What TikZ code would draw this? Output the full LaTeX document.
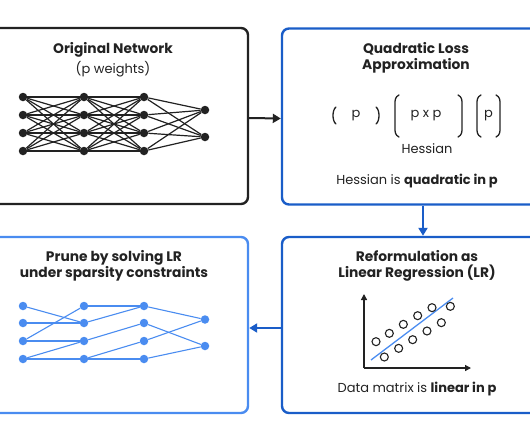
\documentclass[tikz,border=0pt]{standalone}
\usepackage{fontspec}
\setmainfont{Poppins}
\usetikzlibrary{arrows.meta,calc}
\definecolor{dk}{HTML}{222222}
\definecolor{bluedk}{HTML}{1A5DC8}
\definecolor{bluelt}{HTML}{4A8CF0}
\tikzset{
  box/.style={draw, line width=2.4pt, rounded corners=7pt, minimum width=282pt, minimum height=176pt, inner sep=0},
  ttl/.style={font=\fontsize{13.8}{16}\selectfont\bfseries, align=center, text=dk, inner sep=0},
  txt/.style={font=\fontsize{13}{15}\selectfont, align=center, text=dk, inner sep=0},
  nn/.style={circle, fill=dk, minimum size=8.5pt, inner sep=0},
  sn/.style={circle, fill=bluelt, minimum size=8.5pt, inner sep=0},
  wire/.style={line width=1.2pt, dk},
  swire/.style={line width=1.1pt, bluelt},
  arr/.style={line width=2pt, -{Triangle[length=8pt,width=9pt]}},
  brk/.style={line width=1.3pt, dk, line cap=round},
  dot/.style={circle, draw=dk, line width=1.1pt, minimum size=8pt, inner sep=0}
}
\begin{document}
\begin{tikzpicture}[x=1pt,y=-1pt]
\useasboundingbox (0,0) rectangle (530,442);
% boxes
\node[box, draw=dk] (b1) at (107,116) {};
\node[box, draw=bluedk] (b2) at (423,116.5) {};
\node[box, draw=bluelt] (b3) at (107,325) {};
\node[box, draw=bluedk] (b4) at (423,325) {};
% arrows
\draw[arr, dk] ([yshift=-2pt]b1.east) -- ([yshift=-2pt]b2.west);
\draw[arr, bluedk] (b2.south) -- (b4.north);
\draw[arr, bluedk] ([yshift=-3pt]b4.west) -- ([yshift=-3pt]b3.east);
% box 1
\node[ttl] (t1) at (113,50) {Original Network};
\node[txt] (t1b) at (113,69) {(p weights)};
\foreach \c/\x in {1/23,2/84,3/144}{
  \foreach \r/\y in {1/97,2/115,3/133,4/151}{
    \node[nn] (n\c\r) at (\x,\y) {};
  }
}
\node[nn] (n41) at (205,110) {};
\node[nn] (n42) at (205,137) {};
\foreach \a in {1,2,3,4}{
  \foreach \b in {1,2,3,4}{
    \draw[wire] (n1\a) -- (n2\b);
    \draw[wire] (n2\a) -- (n3\b);
  }
  \draw[wire] (n3\a) -- (n41);
  \draw[wire] (n3\a) -- (n42);
}
% box 2
\node[ttl] (t2) at (416,57.5) {Quadratic Loss\\Approximation};
\node[txt] (pa) at (356,116) {p};
\node[txt] (pb) at (426,116) {p x p};
\node[txt] (pc) at (488.5,116) {p};
% brackets
\draw[brk] (336,107) .. controls (332,110) and (332,121) .. (336,124);
\draw[brk] (376,107) .. controls (380,110) and (380,121) .. (376,124);
\draw[brk] (399,95) .. controls (395,97) and (395,100) .. (395,104) -- (395,128) .. controls (395,132) and (395,135) .. (399,137);
\draw[brk] (458,95) .. controls (462,97) and (462,100) .. (462,104) -- (462,128) .. controls (462,132) and (462,135) .. (458,137);
\draw[brk] (481,95) .. controls (477,97) and (477,100) .. (477,104) -- (477,128) .. controls (477,132) and (477,135) .. (481,137);
\draw[brk] (496,95) .. controls (500,97) and (500,100) .. (500,104) -- (500,128) .. controls (500,132) and (500,135) .. (496,137);
\node[txt] (hs) at (427,149) {Hessian};
\node[txt] (hq) at (417,181) {Hessian is \textbf{quadratic in p}};
% box 3
\node[ttl, text=dk] (t3) at (114,266) {Prune by solving LR\\under sparsity constraints};
\foreach \c/\x in {1/23,2/84,3/144}{
  \foreach \r/\y in {1/306,2/323,3/341,4/359}{
    \node[sn] (s\c\r) at (\x,\y) {};
  }
}
\node[sn] (s41) at (205,319.5) {};
\node[sn] (s42) at (205,346) {};
\draw[swire] (s11) -- (s22);
\draw[swire] (s12) -- (s22);
\draw[swire] (s13) -- (s21);
\draw[swire] (s13) -- (s23);
\draw[swire] (s14) -- (s23);
\draw[swire] (s14) -- (s24);
\draw[swire] (s21) -- (s31);
\draw[swire] (s22) -- (s31);
\draw[swire] (s23) -- (s32);
\draw[swire] (s24) -- (s33);
\draw[swire] (s24) -- (s34);
\draw[swire] (s31) -- (s41);
\draw[swire] (s32) -- (s42);
\draw[swire] (s33) -- (s41);
\draw[swire] (s34) -- (s42);
% box 4
\node[ttl] (t4) at (417,266) {Reformulation as\\Linear Regression (LR)};
\coordinate (org) at (364,368);
\coordinate (ytop) at (364,294);
\coordinate (xend) at (471,368);
\draw[line width=1.3pt, dk, -{Triangle[length=6pt,width=6pt]}] (org) -- (ytop);
\draw[line width=1.3pt, dk, -{Triangle[length=6pt,width=6pt]}] (org) -- (xend);
\coordinate (ra) at (371,360);
\coordinate (rb) at (453,298);
\draw[line width=1.3pt, bluelt] (ra) -- (rb);
\foreach \i/\x/\y in {1/318/350,2/358/325,3/400/298,4/443/272,5/486/248,6/541/244,7/343/396,8/386/370,9/428/344,10/471/318,11/514/293}{
  \node[dot, fill=white] (d\i) at ({270+\x/3},{225+\y/3}) {};
}
\node[txt] (dm) at (417,389) {Data matrix is \textbf{linear in p}};
\end{tikzpicture}
\end{document}
